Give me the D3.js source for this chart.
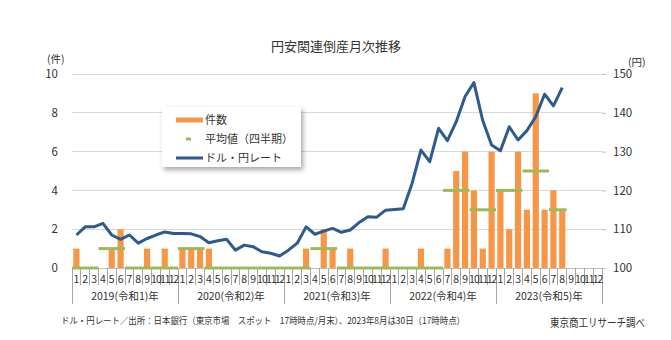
<!DOCTYPE html>
<html>
<head>
<meta charset="utf-8">
<script src="https://cdn.jsdelivr.net/npm/d3@7"></script>
<style>
  body { margin: 0; background: #fff; }
  text { font-family: "Noto Sans CJK JP", "Noto Sans", sans-serif; fill: #333; }
</style>
</head>
<body>
<div id="chart"></div>
<script>
// months Jan 2019 .. Dec 2023
const years = ['2019(令和1)年', '2020(令和2)年', '2021(令和3)年', '2022(令和4)年', '2023(令和5)年'];
const monthLabels = ['1', '2', '3', '4', '5', '6', '7', '8', '9', '10', '11', '12'];

// bankruptcies per month (件), Jan 2019 .. Aug 2023
const counts = [
  1, 0, 0, 0, 1, 2, 0, 0, 1, 0, 1, 0,
  1, 1, 1, 1, 0, 0, 0, 0, 0, 0, 0, 0,
  0, 0, 1, 0, 2, 1, 0, 1, 0, 0, 0, 1,
  0, 0, 0, 1, 0, 0, 1, 5, 6, 4, 1, 6,
  4, 2, 6, 3, 9, 3, 4, 3
];

// quarterly average as drawn (件)
const quarterAvg = [
  0, 1, 0, 0,
  1, 0, 0, 0,
  0, 1, 0, 0,
  0, 0, 4, 3,
  4, 5, 3
];

// USD/JPY month end (円)
const rates = [
  108.5, 110.6, 110.6, 111.5, 108.5, 107.4, 108.5, 106.4, 107.6, 108.5, 109.3, 108.9,
  108.9, 108.8, 108.1, 106.5, 107.0, 107.4, 104.6, 105.9, 105.5, 104.2, 103.8, 103.1,
  104.6, 106.4, 110.6, 108.7, 109.5, 110.2, 109.2, 109.8, 111.7, 113.2, 113.1, 114.9,
  115.1, 115.3, 121.8, 130.4, 127.4, 136.0, 132.8, 137.7, 144.2, 147.8, 138.0, 131.7,
  130.2, 136.4, 133.0, 135.4, 139.0, 144.8, 141.8, 146.5
];

const W = 671, H = 340;
const plotL = 72, plotR = 602, plotT = 74, plotB = 268;
const nMonths = years.length * 12;

const svg = d3.select('#chart').append('svg')
  .attr('width', W).attr('height', H);

const defs = svg.append('defs');
defs.append('filter').attr('id', 'shadow')
  .attr('x', '-10%').attr('y', '-10%').attr('width', '130%').attr('height', '140%')
  .append('feDropShadow')
  .attr('dx', 2).attr('dy', 3).attr('stdDeviation', 2.5)
  .attr('flood-color', '#000').attr('flood-opacity', 0.35);

const x = d3.scaleBand().domain(d3.range(nMonths)).range([plotL, plotR])
  .paddingInner(0.3).paddingOuter(0.15);
const step = x.step();
const edge = i => plotL + step * i;
const mid = i => x(i) + x.bandwidth() / 2;

const yL = d3.scaleLinear().domain([0, 10]).range([plotB, plotT]);
const yR = d3.scaleLinear().domain([100, 150]).range([plotB, plotT]);

// title
svg.append('text').attr('x', 336).attr('y', 51).attr('text-anchor', 'middle')
  .style('font-size', '13px').text('円安関連倒産月次推移');

// gridlines
svg.append('g').selectAll('line').data(yL.ticks(5))
  .join('line')
  .attr('x1', plotL).attr('x2', plotR)
  .attr('y1', d => yL(d)).attr('y2', d => yL(d))
  .attr('stroke', d => d === 0 ? '#bfbfbf' : '#d9d9d9').attr('stroke-width', 1)
  .attr('shape-rendering', 'crispEdges');

// left axis
const axL = svg.append('g').attr('transform', `translate(${plotL},0)`)
  .call(d3.axisLeft(yL).ticks(5).tickSize(0).tickPadding(14));
axL.select('.domain').remove();
axL.selectAll('text').style('font-size', '11.5px').attr('fill', '#333');

// right axis
const axR = svg.append('g').attr('transform', `translate(${plotR},0)`)
  .call(d3.axisRight(yR).ticks(5).tickSize(4).tickPadding(7));
axR.select('.domain').remove();
axR.selectAll('line').attr('stroke', '#bfbfbf');
axR.selectAll('text').style('font-size', '11.5px').attr('fill', '#333');

svg.append('text').attr('x', 47).attr('y', 63).style('font-size', '10.5px').text('(件)');
svg.append('text').attr('x', 628).attr('y', 66).style('font-size', '10.5px').text('(円)');

// bars
svg.append('g').selectAll('rect').data(counts)
  .join('rect')
  .attr('x', (d, i) => x(i))
  .attr('width', x.bandwidth())
  .attr('y', d => yL(d))
  .attr('height', d => plotB - yL(d))
  .attr('fill', '#f79646');

// quarterly averages
svg.append('g').selectAll('line').data(quarterAvg)
  .join('line')
  .attr('x1', (d, q) => edge(q * 3))
  .attr('x2', (d, q) => edge(Math.min(q * 3 + 3, counts.length)))
  .attr('y1', d => yL(d)).attr('y2', d => yL(d))
  .attr('stroke', '#9bbb59').attr('stroke-width', 3);

// rate line
svg.append('path').datum(rates)
  .attr('d', d3.line().x((d, i) => mid(i)).y(d => yR(d)))
  .attr('fill', 'none').attr('stroke', '#2e5b8e').attr('stroke-width', 3)
  .attr('stroke-linejoin', 'round');

// x axis: month cells and year groups
const xa = svg.append('g').attr('shape-rendering', 'crispEdges');
xa.selectAll('line.m').data(d3.range(nMonths + 1))
  .join('line').attr('class', 'm')
  .attr('x1', i => edge(i)).attr('x2', i => edge(i))
  .attr('y1', plotB).attr('y2', i => i % 12 === 0 ? 304 : 285)
  .attr('stroke', '#a6a6a6');
xa.selectAll('text.m').data(d3.range(nMonths))
  .join('text').attr('class', 'm')
  .attr('x', i => edge(i) + step / 2).attr('y', 283)
  .attr('text-anchor', 'middle').style('font-size', '10.5px')
  .attr('letter-spacing', i => i % 12 >= 9 ? '-1px' : null)
  .text(i => monthLabels[i % 12]);
xa.selectAll('text.y').data(years)
  .join('text').attr('class', 'y')
  .attr('x', (d, k) => edge(k * 12 + 6)).attr('y', 300)
  .attr('text-anchor', 'middle').style('font-size', '10.5px')
  .text(d => d);

// legend
const lg = svg.append('g');
lg.append('rect').attr('x', 162).attr('y', 107).attr('width', 139).attr('height', 60)
  .attr('fill', '#fff').attr('filter', 'url(#shadow)');
const items = [
  { label: '件数', color: '#f79646', x1: 176, x2: 203, w: 5 },
  { label: '平均値（四半期）', color: '#9bbb59', x1: 186, x2: 191, w: 3 },
  { label: 'ドル・円レート', color: '#2e5b8e', x1: 176, x2: 203, w: 3 }
];
items.forEach((it, k) => {
  const yy = 120 + k * 19;
  lg.append('line').attr('x1', it.x1).attr('x2', it.x2).attr('y1', yy).attr('y2', yy)
    .attr('stroke', it.color).attr('stroke-width', it.w);
  lg.append('text').attr('x', 205).attr('y', yy + 4).style('font-size', '11px').text(it.label);
});

// notes
svg.append('text').attr('x', 61).attr('y', 324).style('font-size', '9px')
  .attr('textLength', 404).attr('lengthAdjust', 'spacingAndGlyphs')
  .text('ドル・円レート／出所：日本銀行（東京市場　スポット　17時時点/月末）、2023年8月は30日（17時時点）');
svg.append('text').attr('x', 550).attr('y', 327).style('font-size', '11.5px')
  .attr('textLength', 95).attr('lengthAdjust', 'spacingAndGlyphs')
  .attr('fill', '#000').text('東京商工リサーチ調べ');
</script>
</body>
</html>
